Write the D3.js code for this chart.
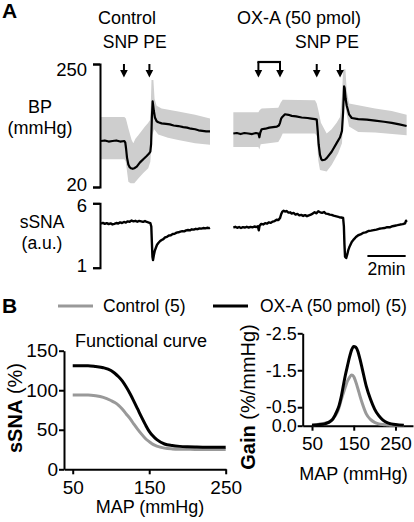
<!DOCTYPE html>
<html><head><meta charset="utf-8">
<script src="https://cdn.jsdelivr.net/npm/d3@7"></script>
<style>
body{margin:0;background:#fff}
svg{display:block;font-family:"Liberation Sans",Arial,Helvetica,sans-serif}
</style></head><body>
<svg id="c" width="414" height="522"></svg>
<script>
// ---------- Panel A data (time in min, BP in mmHg, sSNA in a.u.) ----------
const ctrlBP = [[0,106],[0.2,107],[0.4,105],[0.6,106],[0.8,107],[1.0,105],[1.22,106],[1.27,103],[1.31,92],[1.36,75],[1.43,62],[1.5,57],[1.57,55],[1.66,54],[1.74,55],[1.87,58],[2.04,66],[2.21,72],[2.39,78],[2.5,82],[2.58,86],[2.62,100],[2.66,150],[2.7,180],[2.73,172],[2.76,163],[2.82,150],[2.91,143],[3.0,141],[3.17,139],[3.4,138],[3.6,137],[3.8,135],[4.04,134],[4.3,132],[4.5,131],[4.7,129],[4.92,128],[5.1,126],[5.3,125],[5.5,124],[5.7,124]];
const ctrlBPHi = [[0,151],[1.22,151],[1.3,148],[1.43,130],[1.6,108],[1.69,102],[1.8,110],[1.95,117],[2.1,124],[2.3,133],[2.45,139],[2.56,145],[2.6,170],[2.64,220],[2.74,220],[2.8,185],[2.91,172],[3.17,167],[4.04,161],[4.92,155],[5.7,148]];
const ctrlBPLo = [[0,72],[1.22,72],[1.29,68],[1.34,55],[1.43,30],[1.55,27],[1.74,27],[1.95,36],[2.21,46],[2.47,55],[2.58,67],[2.64,100],[2.68,117],[2.78,128],[2.99,118],[3.5,112],[4.04,108],[4.92,102],[5.7,99]];
const oxaBP = [[6.92,120],[7.1,121],[7.3,119],[7.5,121],[7.7,120],[7.9,119],[8.1,121],[8.23,120],[8.28,113],[8.33,122],[8.4,128],[8.6,129],[8.8,131],[9.0,132],[9.2,133],[9.3,135],[9.36,140],[9.42,148],[9.48,151],[9.62,156],[9.8,155],[9.97,153],[10.2,152],[10.49,150],[10.8,149],[11.0,148],[11.19,147],[11.28,146],[11.33,125],[11.38,100],[11.45,80],[11.52,72],[11.57,70],[11.7,71],[11.8,74],[12.06,86],[12.32,102],[12.5,113],[12.6,125],[12.66,160],[12.71,208],[12.74,205],[12.79,185],[12.85,172],[12.97,156],[13.11,149],[13.45,147],[13.9,146],[14.33,144],[14.8,142],[15.2,140],[15.6,137],[15.98,134]];
const oxaBPHi = [[6.92,160],[8.23,160],[8.3,164],[8.4,167],[9.27,168],[9.4,178],[9.5,183],[11.19,182],[11.28,176],[11.36,164],[11.5,140],[11.8,120],[12.06,128],[12.32,140],[12.5,151],[12.6,190],[12.66,240],[12.78,240],[12.85,200],[12.97,176],[13.45,173],[14.33,167],[15.2,162],[15.98,155]];
const oxaBPLo = [[6.92,95],[8.23,95],[8.28,90],[8.35,100],[9.27,104],[9.4,112],[9.5,120],[11.19,120],[11.28,116],[11.36,70],[11.45,52],[11.8,49],[12.06,61],[12.4,83],[12.6,102],[12.68,160],[12.73,183],[12.8,165],[12.97,133],[13.45,123],[14.33,122],[15.98,117]];
const ctrlSNA = [[0,4.42],[0.1,4.48],[0.2,4.40],[0.3,4.46],[0.4,4.38],[0.5,4.44],[0.6,4.36],[0.7,4.40],[0.8,4.47],[0.9,4.43],[1.0,4.52],[1.1,4.47],[1.2,4.55],[1.3,4.50],[1.4,4.60],[1.5,4.56],[1.6,4.66],[1.7,4.60],[1.8,4.64],[1.9,4.57],[2.0,4.63],[2.1,4.60],[2.2,4.56],[2.3,4.62],[2.4,4.55],[2.5,4.50],[2.58,4.46],[2.63,4.20],[2.66,3.00],[2.69,1.85],[2.72,1.60],[2.76,1.95],[2.81,2.30],[2.87,2.55],[2.93,2.78],[3.0,2.92],[3.08,3.05],[3.17,3.15],[3.26,3.22],[3.35,3.35],[3.45,3.40],[3.55,3.50],[3.65,3.52],[3.75,3.62],[3.85,3.64],[3.95,3.72],[4.05,3.75],[4.15,3.80],[4.25,3.84],[4.35,3.82],[4.45,3.90],[4.55,3.93],[4.65,3.90],[4.75,3.98],[4.85,3.96],[4.95,4.02],[5.05,3.99],[5.15,4.05],[5.25,4.03],[5.35,4.08],[5.45,4.05],[5.55,4.10],[5.65,4.07],[5.7,4.10]];
const oxaSNA = [[6.92,4.12],[7.02,4.18],[7.12,4.10],[7.22,4.16],[7.32,4.08],[7.42,4.15],[7.52,4.12],[7.62,4.18],[7.72,4.11],[7.82,4.17],[7.92,4.13],[8.02,4.20],[8.12,4.16],[8.2,4.22],[8.25,3.90],[8.29,4.25],[8.38,4.40],[8.48,4.36],[8.58,4.46],[8.68,4.42],[8.78,4.52],[8.88,4.48],[8.98,4.58],[9.08,4.62],[9.18,4.72],[9.28,4.70],[9.36,4.85],[9.42,5.15],[9.48,5.35],[9.55,5.42],[9.62,5.36],[9.7,5.40],[9.8,5.28],[9.9,5.30],[9.97,5.20],[10.07,5.25],[10.17,5.12],[10.27,5.18],[10.37,5.06],[10.47,5.10],[10.57,5.02],[10.67,5.08],[10.77,5.00],[10.87,5.06],[10.97,5.12],[11.07,5.20],[11.17,5.30],[11.27,5.22],[11.36,5.38],[11.46,5.30],[11.56,5.26],[11.66,5.32],[11.76,5.20],[11.86,5.18],[11.96,5.12],[12.06,5.10],[12.16,5.04],[12.26,5.00],[12.36,4.96],[12.46,4.92],[12.56,4.90],[12.66,4.86],[12.7,4.2],[12.73,2.8],[12.76,1.85],[12.82,1.75],[12.88,2.05],[12.93,2.37],[13.0,2.65],[13.11,3.00],[13.22,3.20],[13.33,3.38],[13.45,3.52],[13.57,3.58],[13.7,3.70],[13.84,3.74],[13.98,3.85],[14.12,3.88],[14.26,3.92],[14.4,3.96],[14.54,4.02],[14.68,4.05],[14.82,4.08],[14.96,4.15],[15.1,4.14],[15.24,4.22],[15.37,4.26],[15.5,4.30],[15.64,4.35],[15.78,4.38],[15.9,4.45],[15.95,4.65],[15.98,4.55]];
const ctrlArrows = [1.20, 2.53];     // SNP, PE
const oxaBracket = [8.23, 9.36];     // OX-A injection
const oxaArrows = [11.28, 12.50];    // SNP, PE
const scaleBar = [13.93, 15.93];     // 2 min
const bpTicks = [20, 250];
const snaTicks = [1, 6];

// ---------- Panel B data ----------
const mapFC = [50,60,70,80,90,100,105,110,115,120,125,130,135,140,145,150,155,160,170,180,190,200,210,220,230,240,250];
const fcCtrl = [94,94,94,93,91,87,84.5,81,76,70,64,57,50.5,44.5,39,35,31.5,29.3,26.8,25.8,25.4,25.3,25.2,25.2,25.2,25.2,25.2];
const fcOxa = [131,131,131,130,128.5,125,121.5,117,111.5,104,95.5,86,76,66,56.5,48,42,37.5,32,30,29,28.5,28.2,28,28,28,28];
const mapG = [50,60,70,80,90,100,110,115,120,125,130,135,140,145,150,155,160,165,170,180,190,200,210,220,230,240,250,270];
const gainCtrl = [-0.02,-0.03,-0.05,-0.07,-0.10,-0.19,-0.35,-0.5,-0.70,-0.88,-1.05,-1.21,-1.31,-1.37,-1.33,-1.18,-1.0,-0.80,-0.62,-0.32,-0.17,-0.09,-0.05,-0.03,-0.02,-0.01,-0.01,0];
const gainOxa = [-0.01,-0.02,-0.03,-0.05,-0.09,-0.18,-0.40,-0.55,-0.78,-1.08,-1.37,-1.62,-1.86,-2.05,-2.14,-2.12,-2.01,-1.80,-1.56,-1.07,-0.72,-0.45,-0.27,-0.15,-0.08,-0.05,-0.03,-0.01];
const fcYTicks = [0,50,100,150];
const mapTicks = [50,150,250];
const gainTicks = [0,-0.5,-1.5,-2.5];
const legendLabels = ["Control (5)", "OX-A (50 pmol) (5)"];

const GRAY = "#999999", BAND = "#cecece", INK = "#000";
const svg = d3.select("#c");

// ---------- Panel A ----------
const x = d3.scaleLinear().domain([0,16]).range([101,407]);
const yBP = d3.scaleLinear().domain([20,250]).range([187,64]);
const ySN = d3.scaleLinear().domain([1,6]).range([267.7,203.3]);

const lineBP = d3.line().x(d=>x(d[0])).y(d=>yBP(d[1]));
const lineSN = d3.line().x(d=>x(d[0])).y(d=>ySN(d[1]));

function band(hi, lo){ return lineBP(hi.concat(lo.slice().reverse())) + "Z"; }
svg.append("path").attr("d", band(ctrlBPHi, ctrlBPLo)).attr("fill", BAND);
svg.append("path").attr("d", band(oxaBPHi, oxaBPLo)).attr("fill", BAND);
[ctrlBP, oxaBP].forEach(s => svg.append("path").attr("d", lineBP(s))
  .attr("fill","none").attr("stroke",INK).attr("stroke-width",2.2).attr("stroke-linejoin","round"));
[ctrlSNA, oxaSNA].forEach(s => svg.append("path").attr("d", lineSN(s))
  .attr("fill","none").attr("stroke",INK).attr("stroke-width",2.4).attr("stroke-linejoin","round"));

function styleAxis(g, fs){
  g.attr("font-family",null).attr("font-size",null);
  g.selectAll("path,line").attr("stroke",INK).attr("stroke-width",2);
  g.selectAll("text").attr("font-size",fs).attr("fill",INK);
}
const axBP = svg.append("g").attr("transform","translate(100,0)")
  .call(d3.axisLeft(yBP).tickValues(bpTicks).tickSize(7).tickSizeOuter(7).tickPadding(6).tickFormat(d3.format("d")));
styleAxis(axBP, 18.5);
axBP.selectAll(".tick text").attr("transform", d => d===250 ? "translate(0,6)" : "translate(0,-2)");
const axSN = svg.append("g").attr("transform","translate(100,0)")
  .call(d3.axisLeft(ySN).tickValues(snaTicks).tickSize(7).tickSizeOuter(7).tickPadding(6).tickFormat(d3.format("d")));
styleAxis(axSN, 18.5);
axSN.selectAll(".tick text").attr("transform", d => d===6 ? "translate(0,2)" : "translate(0,-2)");

function arrow(t, yTop){
  const cx = x(t);
  svg.append("line").attr("x1",cx).attr("x2",cx).attr("y1",yTop).attr("y2",71)
    .attr("stroke",INK).attr("stroke-width",2);
  svg.append("path").attr("d",`M${cx-3.8},70L${cx+3.8},70L${cx},77.5Z`).attr("fill",INK);
}
ctrlArrows.forEach(t=>arrow(t,64));
oxaArrows.forEach(t=>arrow(t,64));
oxaBracket.forEach(t=>arrow(t,62));
svg.append("line").attr("x1",x(oxaBracket[0])-1).attr("x2",x(oxaBracket[1])+1)
  .attr("y1",62).attr("y2",62).attr("stroke",INK).attr("stroke-width",2.2);

svg.append("line").attr("x1",x(scaleBar[0])).attr("x2",x(scaleBar[1]))
  .attr("y1",256).attr("y2",256).attr("stroke",INK).attr("stroke-width",2);

function txt(s, tx, ty, fs, opts={}){
  const t = svg.append("text").attr("x",tx).attr("y",ty).attr("font-size",fs)
    .attr("text-anchor",opts.anchor||"middle").attr("fill",INK).text(s);
  if(opts.bold) t.attr("font-weight","bold");
  return t;
}
txt("A", 2, 18, 21, {anchor:"start", bold:true});
txt("Control", 127, 24, 18);
txt("OX-A (50 pmol)", 299, 24, 18);
txt("SNP PE", (x(ctrlArrows[0])+x(ctrlArrows[1]))/2-2, 48, 17.5);
txt("SNP PE", (x(oxaArrows[0])+x(oxaArrows[1]))/2-1.5, 48, 17.5);
txt("BP", 40, 113, 18);
txt("(mmHg)", 40, 134, 18);
txt("sSNA", 42, 228, 17.5);
txt("(a.u.)", 42, 249, 17.5);
txt("2min", (x(scaleBar[0])+x(scaleBar[1]))/2, 275, 17.5);

// ---------- Panel B ----------
txt("B", 2, 313, 21, {anchor:"start", bold:true});
svg.append("line").attr("x1",58).attr("x2",93).attr("y1",306).attr("y2",306).attr("stroke",GRAY).attr("stroke-width",3);
txt(legendLabels[0], 103, 312, 17.5, {anchor:"start"});
svg.append("line").attr("x1",213).attr("x2",248).attr("y1",306).attr("y2",306).attr("stroke",INK).attr("stroke-width",3);
txt(legendLabels[1], 260, 312, 17.5, {anchor:"start"});

// Left: functional curve
const xL = d3.scaleLinear().domain([38.6,250.4]).range([64,226]);
const yL = d3.scaleLinear().domain([0,150]).range([469.3,350.7]);
const axLx = svg.append("g").attr("transform","translate(0,469.3)")
  .call(d3.axisBottom(xL).tickValues(mapTicks).tickSize(5).tickSizeOuter(0).tickPadding(6));
styleAxis(axLx, 19);
const axLy = svg.append("g").attr("transform","translate(64,0)")
  .call(d3.axisLeft(yL).tickValues(fcYTicks).tickSize(5).tickSizeOuter(0).tickPadding(1));
styleAxis(axLy, 19);
const lineL = d3.line().x((d,i)=>xL(mapFC[i])).y(d=>yL(d)).curve(d3.curveMonotoneX);
svg.append("path").attr("d",lineL(fcCtrl)).attr("fill","none").attr("stroke",GRAY).attr("stroke-width",3);
svg.append("path").attr("d",lineL(fcOxa)).attr("fill","none").attr("stroke",INK).attr("stroke-width",3);
txt("Functional curve", 141, 347, 18);
txt("MAP (mmHg)", 150, 513, 18);
const tl = svg.append("text").attr("transform","translate(22,408) rotate(-90)")
  .attr("text-anchor","middle").attr("font-size",20).attr("fill",INK);
tl.append("tspan").attr("font-weight","bold").text("sSNA");
tl.append("tspan").text(" (%)");

// Right: gain
const xR = d3.scaleLinear().domain([27.7,292]).range([302.7,413]);
const yR = d3.scaleLinear().domain([0,-2.5]).range([425.7,333.3]);
const axRx = svg.append("g").attr("transform","translate(0,425.7)")
  .call(d3.axisBottom(xR).tickValues(mapTicks).tickSize(5).tickSizeOuter(0).tickPadding(6));
styleAxis(axRx, 19);
const axRy = svg.append("g").attr("transform","translate(302.7,0)")
  .call(d3.axisLeft(yR).tickValues(gainTicks).tickSize(5).tickSizeOuter(0).tickPadding(1)
    .tickFormat(d=>d.toFixed(1)));
styleAxis(axRy, 18);
const lineR = d3.line().x((d,i)=>xR(mapG[i])).y(d=>yR(d)).curve(d3.curveMonotoneX);
svg.append("path").attr("d",lineR(gainCtrl)).attr("fill","none").attr("stroke",GRAY).attr("stroke-width",3);
svg.append("path").attr("d",lineR(gainOxa)).attr("fill","none").attr("stroke",INK).attr("stroke-width",3);
txt("MAP (mmHg)", 353.5, 480, 18);
const tr = svg.append("text").attr("transform","translate(255,397) rotate(-90)")
  .attr("text-anchor","middle").attr("font-size",20).attr("fill",INK);
tr.append("tspan").attr("font-weight","bold").text("Gain");
tr.append("tspan").text(" (%/mmHg)");
</script></body></html>
